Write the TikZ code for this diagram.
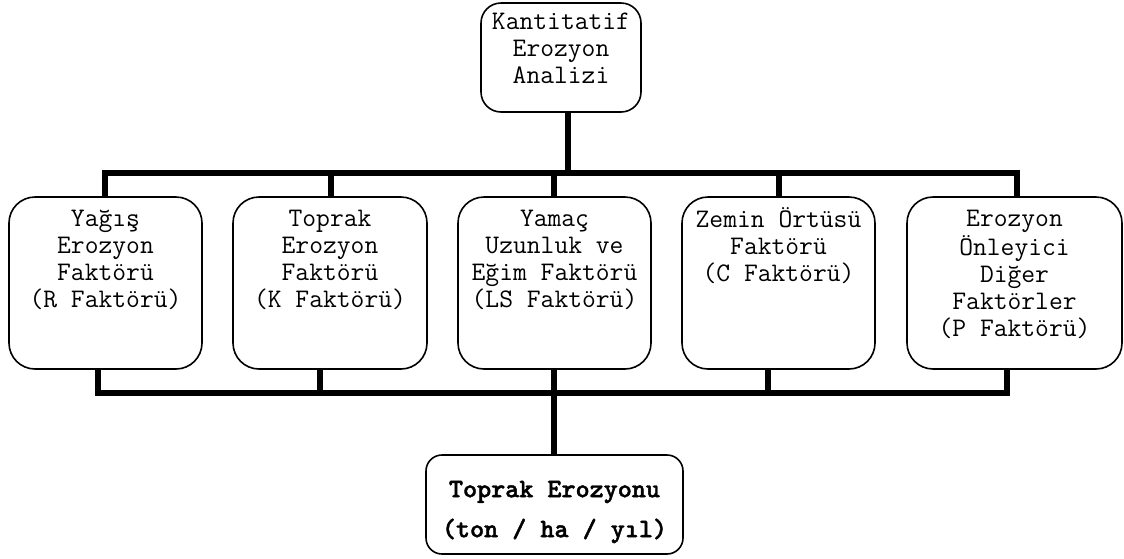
\documentclass[tikz,border=0pt]{standalone}
\usepackage{fontspec}
\newfontfamily\boldmono[FakeBold=1.6]{lmmonolt10-bold.otf}
\begin{document}
\begin{tikzpicture}[x=1pt,y=-1pt,
  fbox/.style={draw, line width=1.6pt, rounded corners=26pt, minimum width=#1, minimum height=172pt, inner sep=0pt},
  lbl/.style={anchor=north, align=center, inner sep=0pt, font=\ttfamily\fontsize{26.8}{27}\selectfont},
  bus/.style={line width=5.5pt, line join=miter}]
\useasboundingbox (0,0) rectangle (1124,558);
% top box
\node[draw, line width=1.6pt, rounded corners=20pt, minimum width=160pt, minimum height=109pt, inner sep=0pt] (top) at (561,57.5) {};
\node[lbl] (topt) at (561,10) {\strut Kantitatif\\\strut Erozyon\\\strut Analizi};
% factor boxes
\node[fbox=193pt] (b1) at (105.5,283) {};
\node[fbox=194pt] (b2) at (330,283) {};
\node[fbox=193pt] (b3) at (554.5,283) {};
\node[fbox=193pt] (b4) at (778.5,283) {};
\node[fbox=215pt] (b5) at (1014.5,283) {};
\node[lbl] (b1t) at (105.5,207) {\strut Yağış\\\strut Erozyon\\\strut Faktörü\\\strut (R Faktörü)};
\node[lbl] (b2t) at (330,207) {\strut Toprak\\\strut Erozyon\\\strut Faktörü\\\strut (K Faktörü)};
\node[lbl] (b3t) at (554.5,207) {\strut Yamaç\\\strut Uzunluk ve\\\strut Eğim Faktörü\\\strut (LS Faktörü)};
\node[lbl] (b4t) at (778.5,207) {\strut Zemin Örtüsü\\\strut Faktörü\\\strut (C Faktörü)};
\node[lbl] (b5t) at (1014.5,207) {\strut Erozyon\\\strut Önleyici\\\strut Diğer\\\strut Faktörler\\\strut (P Faktörü)};
% result box
\node[draw, line width=1.6pt, rounded corners=16pt, minimum width=257pt, minimum height=99pt, inner sep=0pt] (res) at (554.5,504.5) {};
\node[anchor=north, align=center, inner sep=0pt, font=\boldmono\fontsize{26.8}{40}\selectfont] (rest) at (554.5,469) {\strut Toprak Erozyonu\\\strut (ton / ha / yıl)};
% bus coordinates
\coordinate (tj) at (568,173);
\coordinate (t1) at (105,173);
\coordinate (t2) at (331,173);
\coordinate (t3) at (554,173);
\coordinate (t4) at (779,173);
\coordinate (t5) at (1017,173);
\coordinate (uj) at (554,393);
\coordinate (u1) at (98,393);
\coordinate (u2) at (320,393);
\coordinate (u4) at (768,393);
\coordinate (u5) at (1007,393);
% top bus
\draw[bus] (top.south -| tj) -- (tj);
\draw[bus] (b1.north -| t1) -- (t1) -- (t5) -- (b5.north -| t5);
\draw[bus] (t2) -- (b2.north -| t2);
\draw[bus] (t3) -- (b3.north -| t3);
\draw[bus] (t4) -- (b4.north -| t4);
% bottom bus
\draw[bus] (b1.south -| u1) -- (u1) -- (u5) -- (b5.south -| u5);
\draw[bus] (b2.south -| u2) -- (u2);
\draw[bus] (b3.south -| uj) -- (uj);
\draw[bus] (b4.south -| u4) -- (u4);
\draw[bus] (uj) -- (res.north -| uj);
\end{tikzpicture}
\end{document}
